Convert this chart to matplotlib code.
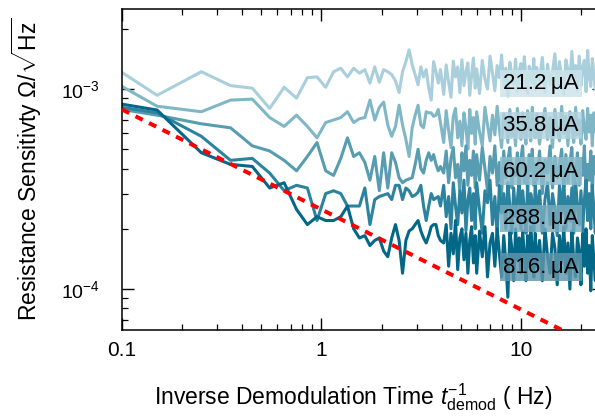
"""Resistance sensitivity vs inverse demodulation time for several bias currents."""

import math

import matplotlib

matplotlib.use("Agg")
import matplotlib.pyplot as plt  # noqa: E402
from matplotlib.ticker import FuncFormatter, LogLocator, NullFormatter  # noqa: E402

plt.rcParams["font.family"] = ["Liberation Sans", "DejaVu Sans"]
plt.rcParams["mathtext.fontset"] = "custom"
plt.rcParams["mathtext.rm"] = "Liberation Sans"
plt.rcParams["mathtext.it"] = "Liberation Sans:italic"
plt.rcParams["mathtext.bf"] = "Liberation Sans:bold"

# inverse demodulation time (Hz)
freq = [0.1, 0.15, 0.25, 0.35, 0.45, 0.55, 0.65, 0.75, 0.85, 0.95,
        1.05, 1.15, 1.25, 1.35, 1.45, 1.55, 1.65, 1.75, 1.85, 1.95,
        2.05, 2.15, 2.25, 2.35, 2.45, 2.55, 2.65, 2.75, 2.85, 2.95,
        3.05, 3.15, 3.25, 3.35, 3.45, 3.55, 3.65, 3.75, 3.85, 3.95,
        4.1, 4.22, 4.34, 4.46, 4.58, 4.7, 4.82, 4.94, 5.06, 5.18, 5.3, 5.42, 5.54,
        5.66, 5.78, 5.9,
        6.0, 6.2, 6.4, 6.6, 6.8, 7.0, 7.2, 7.4, 7.6, 7.8, 8.0, 8.2, 8.4, 8.6, 8.8,
        9.0, 9.2, 9.4, 9.6, 9.8, 10.0, 10.2, 10.4, 10.6, 10.8, 11.0, 11.2, 11.4,
        11.6, 11.8,
        12.0, 12.4, 12.8, 13.2, 13.6, 14.0, 14.4, 14.8, 15.2, 15.6, 16.0, 16.4,
        16.8, 17.2, 17.6, 18.0, 18.4, 18.8, 19.2, 19.6, 20.0, 20.4, 20.8, 21.2,
        21.6, 22.0, 22.4, 22.8, 23.2, 23.6, 24.0, 24.4, 24.8, 25.2, 25.6]

# sensitivity in units of 1e-4 Ohm/sqrt(Hz)
s_21 = [12.1, 9.3, 12.2, 10.4, 10.1, 8.0, 10.2, 9.0, 11.4, 11.5,
        10.2, 12.2, 12.7, 11.5, 12.7, 12.0, 12.5, 10.7, 12.9, 10.8,
        12.5, 12.2, 11.8, 11.0, 9.6, 12.2, 13.7, 15.7, 13.2, 11.8,
        10.5, 12.9, 11.5, 12.5, 10.1, 8.8, 13.7, 12.2, 10.7, 12.5,
        9.4, 13.2, 10.8, 9.1, 13.8, 11.5, 12.9, 9.6, 14.0, 10.4, 12.2, 13.5, 9.3,
        11.8, 14.3, 10.1,
        12.6, 9.5, 13.9, 11.2, 10.0, 14.6, 12.0, 9.8, 13.1, 11.4, 14.8, 10.3, 12.7,
        9.2, 13.6, 11.9, 10.6, 14.1, 9.7, 12.4, 13.4, 10.2, 14.5, 11.1, 9.5, 13.0,
        12.1, 10.7, 14.2, 9.9,
        12.8, 11.0, 14.4, 9.6, 13.3, 10.5, 12.2, 15.0, 10.0, 13.7, 11.6, 9.4, 14.0,
        12.5, 10.8, 15.4, 11.2, 13.1, 9.8, 14.6, 10.4, 12.9, 13.9, 9.7, 15.6, 11.5,
        10.3, 14.2, 12.0, 9.9, 13.6, 11.1, 14.8, 10.6, 12.7]
s_35 = [10.3, 8.2, 7.7, 8.8, 8.9, 7.2, 6.5, 7.4, 6.5, 5.7,
        6.8, 7.0, 7.2, 7.7, 6.8, 7.1, 7.2, 8.8, 7.0, 8.1,
        8.6, 6.6, 5.8, 6.5, 8.3, 6.6, 5.6, 4.6, 6.4, 7.4,
        8.3, 6.6, 6.4, 7.7, 7.6, 7.6, 7.3, 7.4, 7.9, 6.8,
        5.4, 7.8, 6.2, 5.1, 7.3, 8.0, 5.7, 6.9, 5.2, 7.6, 6.4, 5.0, 7.9, 6.0, 7.2,
        5.3,
        7.7, 6.1, 5.2, 8.1, 6.6, 5.5, 7.4, 5.9, 8.2, 6.3, 5.1, 7.5, 6.8, 5.4, 7.9,
        5.8, 7.0, 5.2, 8.0, 6.5, 5.6, 7.6, 6.1, 5.3, 7.8, 6.9, 5.5, 8.1, 6.2, 5.7,
        7.5, 5.3, 6.8, 8.0, 5.6, 7.2, 5.1, 7.9, 6.4, 5.5, 8.2, 6.0, 7.3, 5.2, 7.7,
        6.6, 5.4, 8.1, 5.9, 7.0, 5.3, 7.8, 6.3, 5.6, 8.0, 6.1, 7.4, 5.2, 7.6, 6.7,
        5.5, 8.1, 5.8, 7.1, 6.0]
s_60 = [7.9, 7.4, 6.7, 6.4, 5.2, 4.9, 4.4, 3.9, 4.6, 5.4,
        3.9, 3.7, 4.5, 5.7, 4.6, 4.8, 4.3, 3.5, 4.6, 3.1,
        4.8, 3.2, 4.8, 4.3, 3.6, 3.4, 3.5, 3.55, 3.6, 4.2,
        5.0, 4.0, 3.8, 4.4, 4.8, 4.4, 4.7, 4.2, 3.9, 4.1,
        3.8, 4.9, 3.4, 4.5, 5.1, 3.6, 4.2, 3.1, 4.8, 3.9, 5.2, 3.3, 4.4, 3.7, 4.9,
        3.2,
        4.7, 3.5, 5.1, 4.0, 3.1, 4.6, 3.8, 5.2, 3.3, 4.3, 3.0, 4.9, 3.6, 4.4, 5.1,
        3.2, 4.1, 3.7, 4.8, 3.0, 4.5, 5.2, 3.4, 4.0, 3.1, 4.7, 3.9, 5.0, 3.3, 4.2,
        3.5, 4.9, 3.0, 4.4, 3.8, 5.2, 3.2, 4.6, 3.6, 4.1, 5.0, 3.1, 4.7, 3.4, 4.3,
        5.1, 3.0, 3.9, 4.8, 3.3, 4.5, 3.7, 5.2, 3.1, 4.2, 3.5, 4.9, 3.0, 4.6, 3.8,
        5.0, 3.2, 4.4, 3.6, 4.7]
s_288 = [8.1, 7.6, 5.8, 4.4, 4.5, 3.8, 3.1, 3.3, 3.2, 2.2,
         3.0, 3.1, 3.0, 2.6, 2.6, 2.6, 3.2, 2.1, 2.8, 2.9,
         2.95, 3.0, 2.8, 3.3, 3.3, 2.8, 3.2, 3.1, 2.9, 2.95,
         3.05, 3.3, 2.6, 2.2, 2.6, 3.0, 2.8, 2.85, 2.9, 2.6,
         3.3, 2.3, 2.9, 2.0, 3.4, 2.6, 2.1, 3.1, 2.4, 3.5, 1.95, 2.8, 3.2, 2.2, 3.0,
         2.0,
         3.4, 2.5, 1.9, 3.1, 2.7, 3.5, 2.1, 2.9, 1.85, 3.3, 2.4, 3.0, 2.0, 3.4, 2.6,
         1.9, 3.2, 2.3, 2.8, 3.5, 2.0, 3.1, 2.5, 1.9, 3.3, 2.2, 3.0, 2.7, 1.95, 3.4,
         2.3, 3.1, 1.9, 2.8, 3.4, 2.1, 3.0, 2.5, 1.85, 3.3, 2.4, 3.5, 2.0, 2.9, 2.2,
         3.2, 1.9, 3.4, 2.6, 2.1, 3.1, 1.95, 2.8, 3.5, 2.2, 3.0, 2.0, 3.3, 2.5, 1.9,
         3.2, 2.3, 3.4, 2.1, 2.9]
s_816 = [8.4, 7.85, 4.8, 4.2, 4.1, 3.2, 3.4, 2.5, 2.1, 2.3,
         2.2, 2.2, 2.3, 2.6, 2.0, 1.8, 1.85, 1.65, 1.75, 1.8,
         1.55, 1.45, 1.8, 2.1, 1.75, 1.2, 1.75, 1.95, 2.0, 2.1,
         2.2, 1.95, 1.8, 1.7, 1.85, 2.05, 2.1, 2.1, 1.85, 1.75,
         1.7, 2.1, 1.3, 1.9, 1.5, 2.2, 1.25, 1.8, 2.0, 1.4, 1.9, 1.2, 1.75, 2.05,
         1.35, 1.85,
         1.2, 1.95, 1.45, 2.05, 1.15, 1.7, 1.9, 1.3, 2.0, 1.5, 1.15, 1.85, 1.35, 0.91,
         1.95, 1.6, 1.1, 2.0, 1.4, 1.8, 1.2, 1.95, 1.5, 1.1, 1.85, 1.3, 2.05, 1.6,
         1.15, 1.9,
         1.3, 1.75, 1.1, 2.0, 1.45, 1.2, 1.9, 1.6, 1.05, 1.85, 1.35, 2.05, 1.2, 1.7,
         1.0, 1.95, 1.4, 1.15, 1.8, 1.55, 1.05, 1.9, 1.3, 2.0, 1.2, 1.65, 0.98, 1.85,
         1.4, 1.1, 1.95, 1.25, 1.75, 1.15, 1.9]

currents = ["21.2\u2009\u03bcA", "35.8\u2009\u03bcA", "60.2\u2009\u03bcA",
            "288.\u2009\u03bcA", "816.\u2009\u03bcA"]
series = [s_21, s_35, s_60, s_288, s_816]
colors = ["#a8cfdb", "#80b7c7", "#589cb2", "#2c839f", "#036787"]
box_colors = ["#cde4eb", "#b2d3dd", "#8dbccb", "#78aabd", "#5f96ab"]
label_y = [0.769, 0.636, 0.495, 0.347, 0.196]

# ideal f^-1/2 noise floor
floor_x = [0.1, 26.0]
floor_y = [7.9e-4, 4.9e-5]

fig = plt.figure(figsize=(5.95, 4.16), dpi=100)
ax = fig.add_axes([122 / 595, 86 / 416, 481.7 / 595, 321 / 416])

for i, (vals, color) in enumerate(zip(series, colors)):
    assert len(vals) == len(freq)
    ax.plot(freq, [v * 1e-4 for v in vals], color=color, lw=2.2, zorder=2 + i * 0.1)
ax.plot(floor_x, floor_y, color="#ff0000", lw=2.9, dashes=(2, 1.75), zorder=3)

for text, y, fc in zip(currents, label_y, box_colors):
    ax.text(0.870, y, text, transform=ax.transAxes, ha="center", va="center",
            fontsize=16, zorder=5,
            bbox=dict(boxstyle="square,pad=0.14", fc=fc, ec="none", alpha=0.82))

ax.set_xscale("log")
ax.set_yscale("log")
ax.set_xlim(0.1, 26)
ax.set_ylim(6.24e-5, 2.512e-3)

ax.xaxis.set_major_locator(LogLocator(base=10))
ax.xaxis.set_minor_locator(LogLocator(base=10, subs=range(2, 10)))
ax.yaxis.set_major_locator(LogLocator(base=10))
ax.yaxis.set_minor_locator(LogLocator(base=10, subs=range(2, 10)))
ax.xaxis.set_major_formatter(FuncFormatter(lambda v, _: f"{v:g}"))
ax.yaxis.set_major_formatter(FuncFormatter(
    lambda v, _: r"$\mathregular{10^{%d}}$" % round(math.log10(v))))
ax.xaxis.set_minor_formatter(NullFormatter())
ax.yaxis.set_minor_formatter(NullFormatter())

ax.tick_params(which="both", direction="in", top=True, right=True)
ax.tick_params(axis="x", labelsize=15, pad=7.8)
ax.tick_params(axis="y", labelsize=14, pad=15.8)
ax.tick_params(which="major", length=8.3, width=1.0)
ax.tick_params(which="minor", length=4.3, width=0.9)
for spine in ax.spines.values():
    spine.set_linewidth(1.1)

ax.set_xlabel(r"Inverse Demodulation Time $t^{-1}_{\mathrm{demod}}$ ( Hz)", fontsize=16.5)
ax.set_ylabel(r"Resistance Sensitivty $\Omega/\sqrt{\mathrm{Hz}}$", fontsize=16.5)
ax.xaxis.set_label_coords(0.48, -0.16)
ax.yaxis.set_label_coords(-0.162, 0.5)

fig.savefig("out.png", dpi=100)
